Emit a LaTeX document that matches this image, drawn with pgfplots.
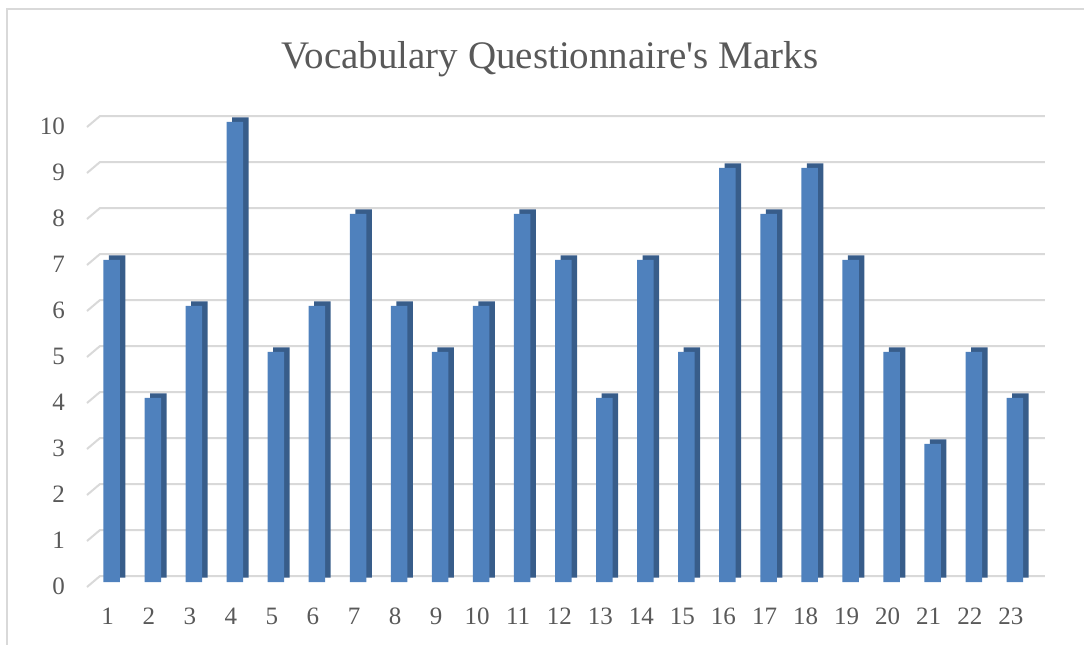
\documentclass[border=0pt]{standalone}
\usepackage{pgfplots}
\pgfplotsset{compat=1.18}
\usepackage{fontspec}
\setmainfont{Liberation Serif}
\definecolor{barfront}{HTML}{4F81BD}
\definecolor{barside}{HTML}{385D8A}
\definecolor{gridc}{HTML}{D9D9D9}
\definecolor{txt}{HTML}{595959}
\begin{document}
\begin{tikzpicture}
\path[use as bounding box] (0,0) rectangle (1084pt,645pt);
\draw[gridc, line width=2pt] (7pt,-5pt) -- (7pt,636pt) -- (1095pt,636pt);
\node[txt, font=\fontsize{39}{42}\selectfont, anchor=base] at (550pt,576pt) {Vocabulary Questionnaire\textquotesingle s Marks};
\begin{axis}[
  at={(70.65pt,63pt)}, anchor=south west,
  width=985.2pt, height=460pt, scale only axis,
  xmin=0, xmax=24, ymin=0, ymax=10,
  axis line style={draw=none}, clip=false,
  xtick={1,...,23}, ytick={0,...,10},
  major tick length=0pt, tick style={draw=none},
  ticklabel style={txt, font=\fontsize{25}{27}\selectfont},
  /pgf/number format/assume math mode=true,
  xticklabel style={anchor=base, yshift=-42.5pt, xshift=-4pt},
  yticklabel style={anchor=base east, xshift=-5.6pt, yshift=-12.5pt, inner sep=0pt},
]
\pgfplotsset{gl/.style={gridc, line width=2pt, forget plot, mark=none}}
\addplot[gl] coordinates {(0.398,-0.109) (0.715,0.130) (23.735,0.130)};
\addplot[gl] coordinates {(0.398,0.891) (0.715,1.130) (23.735,1.130)};
\addplot[gl] coordinates {(0.398,1.891) (0.715,2.130) (23.735,2.130)};
\addplot[gl] coordinates {(0.398,2.891) (0.715,3.130) (23.735,3.130)};
\addplot[gl] coordinates {(0.398,3.891) (0.715,4.130) (23.735,4.130)};
\addplot[gl] coordinates {(0.398,4.891) (0.715,5.130) (23.735,5.130)};
\addplot[gl] coordinates {(0.398,5.891) (0.715,6.130) (23.735,6.130)};
\addplot[gl] coordinates {(0.398,6.891) (0.715,7.130) (23.735,7.130)};
\addplot[gl] coordinates {(0.398,7.891) (0.715,8.130) (23.735,8.130)};
\addplot[gl] coordinates {(0.398,8.891) (0.715,9.130) (23.735,9.130)};
\addplot[gl] coordinates {(0.398,9.891) (0.715,10.130) (23.735,10.130)};
\addplot[ybar, bar width=16.5pt, bar shift=0pt, fill=barside, draw=none, xshift=5.5pt, yshift=4.5pt] coordinates {
(1,7) (2,4) (3,6) (4,10) (5,5) (6,6) (7,8) (8,6) (9,5) (10,6) (11,8) (12,7)
(13,4) (14,7) (15,5) (16,9) (17,8) (18,9) (19,7) (20,5) (21,3) (22,5) (23,4)};
\addplot[ybar, bar width=16.5pt, bar shift=0pt, fill=barfront, draw=none] coordinates {
(1,7) (2,4) (3,6) (4,10) (5,5) (6,6) (7,8) (8,6) (9,5) (10,6) (11,8) (12,7)
(13,4) (14,7) (15,5) (16,9) (17,8) (18,9) (19,7) (20,5) (21,3) (22,5) (23,4)};
\end{axis}
\end{tikzpicture}
\end{document}
